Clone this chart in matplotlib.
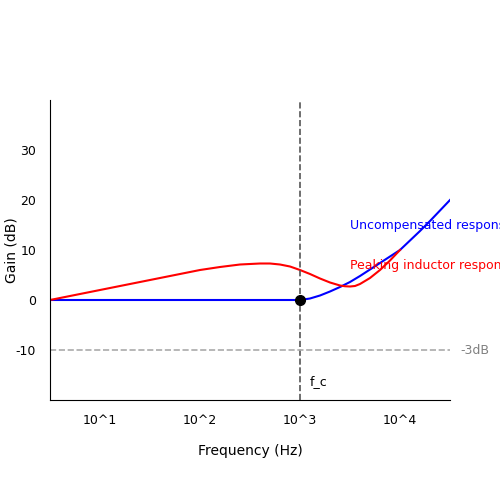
import matplotlib

matplotlib.use("Agg")
import matplotlib.pyplot as plt
import numpy as np

plt.rcParams["axes.unicode_minus"] = False

# log10(frequency) and gain readings
blue_logf = [0.5, 1.0, 2.0, 3.0, 3.1, 3.2, 3.3, 3.4, 3.5, 3.6, 3.7, 3.8, 3.9, 4.0, 4.1, 4.2, 4.3, 4.4, 4.5]
blue_gain = [0, 0, 0, 0, 0.3, 0.9, 1.7, 2.6, 3.6, 4.8, 6.1, 7.4, 8.7, 10.0, 11.9, 13.8, 15.8, 17.9, 20.0]
red_logf = [0.5, 0.8, 1.0, 1.3, 1.5, 1.8, 2.0, 2.2, 2.4, 2.6, 2.7, 2.8, 2.9, 3.0, 3.1, 3.2, 3.3, 3.4, 3.45,
            3.5, 3.55, 3.6, 3.7, 3.8, 3.9, 4.0]
red_gain = [0, 1.2, 2.0, 3.2, 4.0, 5.2, 6.0, 6.6, 7.1, 7.3, 7.3, 7.1, 6.7, 6.0, 5.2, 4.3, 3.5, 2.9, 2.75,
            2.7, 2.8, 3.2, 4.4, 6.0, 7.9, 10.0]
fc = 1000

fig = plt.figure(figsize=(5, 5), dpi=100)
ax = fig.add_axes([0.1, 0.2, 0.8, 0.6])

ax.plot(10 ** np.array(blue_logf), blue_gain, color="blue", lw=1.5)
ax.plot(10 ** np.array(red_logf), red_gain, color="red", lw=1.5)
ax.axvline(fc, color="#555555", ls="--", lw=1.2)
ax.axhline(-10, color="#aaaaaa", ls="--", lw=1.2)
ax.plot([fc], [0], "o", color="black", ms=7)

ax.set_xscale("log")
ax.set_xlim(10 ** 0.5, 10 ** 4.5)
ax.set_ylim(-20, 40)
ax.set_xticks([10, 100, 1000, 10000], ["10^1", "10^2", "10^3", "10^4"])
ax.minorticks_off()
ax.set_yticks([-10, 0, 10, 20, 30])
ax.tick_params(length=0, labelsize=9, pad=10)
for s in ("top", "right"):
    ax.spines[s].set_visible(False)

ax.set_xlabel("Frequency (Hz)", fontsize=10, labelpad=12)
ax.set_ylabel("Gain (dB)", fontsize=10, labelpad=-2)

ax.text(10 ** 3.1, -17, "f_c", fontsize=9)
ax.text(10 ** 4.6, -10, "-3dB", fontsize=9, color="gray", va="center")
ax.text(10 ** 3.5, 15, "Uncompensated response", fontsize=9, color="blue", va="center")
ax.text(10 ** 3.5, 7, "Peaking inductor response", fontsize=9, color="red", va="center")

fig.savefig("out.png", dpi=100, facecolor="white")
